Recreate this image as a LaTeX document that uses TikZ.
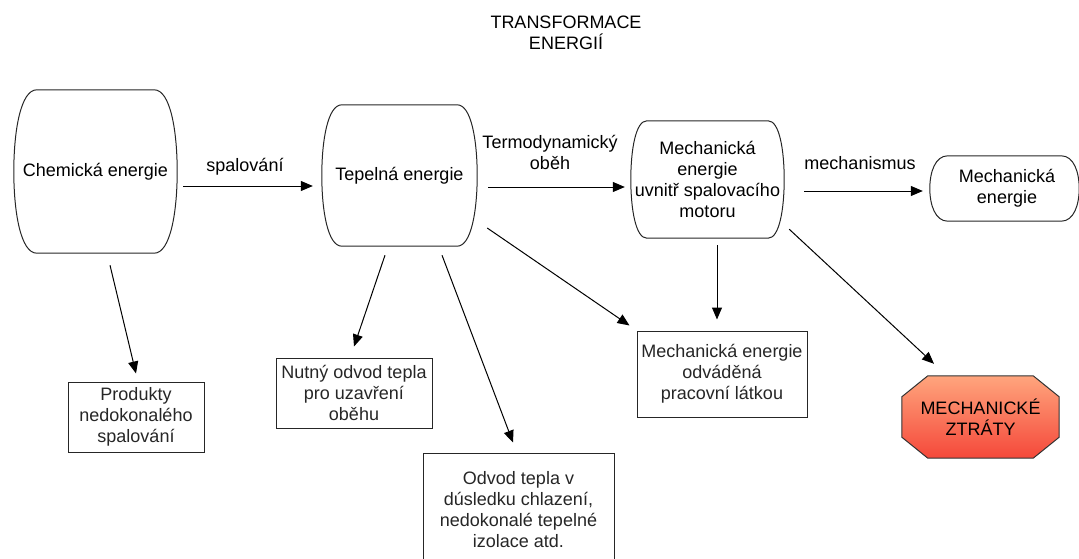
\documentclass[tikz,border=0pt]{standalone}
\usepackage{fontspec}
\setmainfont{Liberation Sans}
\usetikzlibrary{arrows.meta,calc}
\definecolor{ztop}{RGB}{255,165,125}
\definecolor{zbot}{RGB}{245,72,58}
\newcommand{\barrelshape}[2]{%
  \draw[shapeline] ([shift={(#2,0)}]#1.north west) -- ([shift={(-#2,0)}]#1.north east)
    .. controls ([shift={(-0.3*#2,0)}]#1.north east) and ($(#1.north east)!0.5!(#1.east)$) .. (#1.east)
    .. controls ($(#1.south east)!0.5!(#1.east)$) and ([shift={(-0.3*#2,0)}]#1.south east) .. ([shift={(-#2,0)}]#1.south east)
    -- ([shift={(#2,0)}]#1.south west)
    .. controls ([shift={(0.3*#2,0)}]#1.south west) and ($(#1.south west)!0.5!(#1.west)$) .. (#1.west)
    .. controls ($(#1.north west)!0.5!(#1.west)$) and ([shift={(0.3*#2,0)}]#1.north west) .. cycle;}
\begin{document}
\begin{tikzpicture}[x=1pt,y=-1pt,
  txt/.style={font=\fontsize{18}{21}\selectfont, align=center, inner sep=0pt},
  shapeline/.style={line width=1pt, black!85},
  box/.style={txt, draw, line width=1pt, black!85},
  arr/.style={-{Triangle[length=12pt,width=10pt]}, line width=1pt}]
\useasboundingbox (0,0) rectangle (1079,559);
\clip (0,0) rectangle (1079,559);

% title
\node[txt] (title) at (566,33) {TRANSFORMACE\\ENERGIÍ};

% barrel nodes
\node[txt, minimum width=163pt, minimum height=163pt] (chem) at (95.5,171.5) {Chemická energie};
\barrelshape{chem}{23}
\node[txt, minimum width=155pt, minimum height=141pt] (tep) at (399.5,175.5) {Tepelná energie};
\barrelshape{tep}{20}
\node[txt, minimum width=153pt, minimum height=117pt] (mechin) at (707.5,179.5) {Mechanická\\energie\\uvnitř spalovacího\\motoru};
\barrelshape{mechin}{16}
\node[txt, minimum width=149pt, minimum height=65pt] (mechout) at (1004.5,188.5) {\hspace*{5pt}Mechanická\\\hspace*{5pt}energie};
\barrelshape{mechout}{18}

% rectangular boxes
\node[box, minimum width=136pt, minimum height=70pt] (prod) at (136,417) {Produkty\\nedokonalého\\spalování};
\node[box, minimum width=156pt, minimum height=70pt] (nutny) at (354,393) {Nutný odvod tepla\\pro uzavření\\oběhu};
\node[box, minimum width=191pt, minimum height=114pt] (odvod) at (518.5,510) {Odvod tepla v\\dúsledku chlazení,\\nedokonalé tepelné\\izolace atd.};
\node[box, minimum width=170pt, minimum height=86pt] (mechodv) at (722,374) {Mechanická energie\\odváděná\\pracovní látkou};

% octagon
\node[txt, minimum width=157pt, minimum height=82pt] (ztraty) at (980.5,417) {};
\path[draw=black!80, line width=1pt, top color=ztop, bottom color=zbot]
  ([shift={(26,0)}]ztraty.north west) -- ([shift={(-26,0)}]ztraty.north east)
  -- ([shift={(0,21)}]ztraty.north east) -- ([shift={(0,-21)}]ztraty.south east)
  -- ([shift={(-26,0)}]ztraty.south east) -- ([shift={(26,0)}]ztraty.south west)
  -- ([shift={(0,-21)}]ztraty.south west) -- ([shift={(0,21)}]ztraty.north west) -- cycle;
\node[txt] (ztext) at (ztraty.center) {MECHANICKÉ\\ZTRÁTY};

% labels
\node[txt] (lspal) at (245,167) {spalování};
\node[txt] (lterm) at (550,152) {Termodynamický\\oběh};
\node[txt] (lmech) at (860,163) {mechanismus};

% connectors
\draw[arr] ([shift={(6,14.5)}]chem.east) -- ([shift={(-9,10.5)}]tep.west);
\draw[arr] ([shift={(11,11.5)}]tep.east) -- ([shift={(-6,7.5)}]mechin.west);
\draw[arr] ([shift={(20,11.5)}]mechin.east) -- ([shift={(-7,2.5)}]mechout.west);
\draw[arr] ([shift={(14.5,12)}]chem.south) -- ([shift={(0,-8)}]prod.north);
\draw[arr] ([shift={(-14.5,9)}]tep.south) -- ([shift={(0,-11)}]nutny.north);
\draw[arr] ([shift={(42.5,9)}]tep.south) -- ([shift={(-5.5,-10)}]odvod.north);
\draw[arr] ([shift={(10,52.5)}]tep.east) -- ([shift={(-7,-5)}]mechodv.north west);
\draw[arr] ([shift={(9.5,7)}]mechin.south) -- ([shift={(-5,-11)}]mechodv.north);
\draw[arr] ([shift={(5,-9)}]mechin.south east) -- ([shift={(-46.5,-12)}]ztraty.north);
\end{tikzpicture}
\end{document}
